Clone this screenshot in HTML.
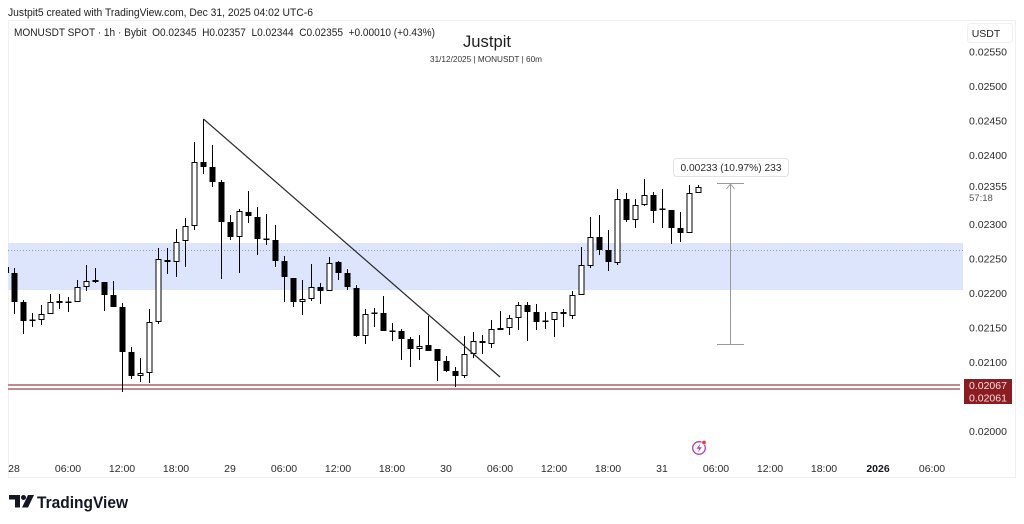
<!DOCTYPE html>
<html><head><meta charset="utf-8"><style>
html,body{margin:0;padding:0;background:#fff;}
svg{display:block;font-family:"Liberation Sans",sans-serif;}
</style></head><body>
<svg width="1024" height="524" viewBox="0 0 1024 524" xmlns="http://www.w3.org/2000/svg">
<rect width="1024" height="524" fill="#fff"/>
<!-- header -->
<text x="8" y="16" font-size="11" fill="#1e1e1e" textLength="305" lengthAdjust="spacingAndGlyphs">Justpit5 created with TradingView.com, Dec 31, 2025 04:02 UTC-6</text>
<rect x="8.5" y="20.5" width="1007" height="457" fill="none" stroke="#f0f0f0"/>
<text x="14" y="36" font-size="11" fill="#1e1e1e" textLength="421" lengthAdjust="spacingAndGlyphs" xml:space="preserve">MONUSDT SPOT · 1h · Bybit  O0.02345  H0.02357  L0.02344  C0.02355  +0.00010 (+0.43%)</text>
<text x="487" y="47" font-size="17" fill="#1e1e1e" text-anchor="middle" textLength="48" lengthAdjust="spacingAndGlyphs">Justpit</text>
<text x="486" y="62" font-size="8" fill="#333" text-anchor="middle" textLength="112" lengthAdjust="spacingAndGlyphs">31/12/2025 | MONUSDT | 60m</text>

<!-- blue zone -->
<rect x="8" y="243" width="955" height="47" fill="#dde5fc"/>
<line x1="8" y1="250.5" x2="963" y2="250.5" stroke="#8d9cc0" stroke-width="1" stroke-dasharray="1,2"/>
<!-- red lines -->
<rect x="8" y="384" width="952" height="2" fill="#bf8a8e"/>
<rect x="8" y="388" width="952" height="2" fill="#bf8a8e"/>

<!-- wicks -->
<path fill="none" stroke="#000" stroke-width="1" d="M8.5 267V273 M14.5 268V314 M23.5 300V334 M32.5 313V327 M41.5 305V325 M50.5 294V314 M59.5 294V309 M68.5 297V312 M77.5 280V302 M86.5 265V291 M95.5 268V283 M104.5 282V311 M113.5 281V307 M122.5 303V392 M131.5 347V379 M140.5 358V382 M149.5 309V383 M158.5 248V324 M167.5 248V274 M176.5 229V277 M185.5 218V267 M194.5 142V230 M203.5 119V174 M212.5 145V187 M221.5 180V279 M230.5 215V240 M239.5 209V273 M248.5 191V223 M257.5 207V255 M266.5 214V245 M275.5 225V267 M284.5 256V302 M293.5 278V307 M302.5 280V315 M311.5 264V301 M320.5 283V304 M329.5 257V291 M338.5 261V280 M347.5 269V290 M356.5 285V337 M365.5 309V344 M374.5 308V327 M383.5 296V331 M392.5 323V341 M401.5 329V360 M410.5 337V367 M419.5 335V360 M428.5 316V351 M437.5 349V381 M446.5 356V372 M455.5 367V387 M464.5 336V378 M473.5 332V358 M482.5 335V354 M491.5 320V348 M500.5 311V330 M509.5 315V335 M518.5 302V330 M527.5 302V341 M536.5 304V330 M545.5 312V329 M554.5 312V337 M563.5 309V327 M572.5 291V319 M581.5 247V295 M590.5 217V268 M599.5 215V255 M608.5 230V271 M617.5 189V265 M626.5 193V222 M635.5 199V228 M644.5 179V206 M653.5 192V223 M662.5 189V228 M671.5 210V244 M680.5 212V242 M689.5 185V233 M698.5 185V193"/>
<!-- bear bodies -->
<path fill="#000" d="M11.5 273h6V302h-6z M20.5 302h6V321h-6z M56.5 301h6V303h-6z M92.5 280h6V282h-6z M101.5 282h6V295h-6z M110.5 295h6V307h-6z M119.5 307h6V352h-6z M128.5 352h6V376h-6z M164.5 260h6V262h-6z M200.5 162h6V167h-6z M209.5 167h6V182h-6z M218.5 182h6V222h-6z M227.5 222h6V237h-6z M245.5 212h6V216h-6z M254.5 217h6V239h-6z M272.5 240h6V261h-6z M281.5 261h6V277h-6z M290.5 278h6V302h-6z M317.5 287h6V291h-6z M335.5 262h6V273h-6z M344.5 273h6V287h-6z M353.5 288h6V336h-6z M380.5 313h6V331h-6z M398.5 331h6V339h-6z M407.5 339h6V349h-6z M425.5 345h6V351h-6z M434.5 349h6V361h-6z M443.5 361h6V371h-6z M452.5 371h6V376h-6z M479.5 341h6V343h-6z M497.5 328h6V330h-6z M524.5 305h6V312h-6z M533.5 312h6V322h-6z M560.5 312h6V314h-6z M596.5 237h6V250h-6z M605.5 250h6V262h-6z M623.5 199h6V220h-6z M650.5 195h6V211h-6z M668.5 210h6V228h-6z M677.5 228h6V233h-6z"/>
<!-- doji -->
<path fill="#000" d="M29.5 319.5h6v1.5h-6z M65.5 301.5h6v1.5h-6z M263.5 238.5h6v1.5h-6z M371.5 312.5h6v1.5h-6z M389.5 330.5h6v1.5h-6z M542.5 320.5h6v1.5h-6z M659.5 208.5h6v1.5h-6z"/>
<!-- bull bodies -->
<path fill="#fff" stroke="#000" stroke-width="1" d="M39 314.5h5v5h-5z M48 302.5h5v11h-5z M75 287.5h5v14h-5z M84 281.5h5v5h-5z M138 373.5h5v2h-5z M147 322.5h5v50h-5z M156 259.5h5v62h-5z M174 242.5h5v19h-5z M183 226.5h5v14h-5z M192 162.5h5v63h-5z M237 211.5h5v25h-5z M300 299.5h5v2h-5z M309 287.5h5v11h-5z M327 263.5h5v27h-5z M363 314.5h5v21h-5z M417 346.5h5v2h-5z M462 354.5h5v21h-5z M471 341.5h5v12h-5z M489 329.5h5v14h-5z M507 318.5h5v9h-5z M516 305.5h5v12h-5z M552 312.5h5v7h-5z M570 295.5h5v20h-5z M579 265.5h5v29h-5z M588 237.5h5v28h-5z M615 199.5h5v63h-5z M633 205.5h5v14h-5z M642 195.5h5v9h-5z M687 193.5h5v39h-5z M696 187.5h5v5h-5z"/>

<!-- trend line -->
<line x1="203.5" y1="119" x2="500" y2="377" stroke="#2a2a2a" stroke-width="1.2"/>

<!-- measure tool -->
<g stroke="#9a9a9a" stroke-width="1" fill="none">
<line x1="730.5" y1="184" x2="730.5" y2="344"/>
<line x1="717" y1="183.5" x2="744" y2="183.5"/>
<line x1="717" y1="344.5" x2="744" y2="344.5"/>
<polyline points="726.5,189 730.5,184 734.5,189"/>
</g>
<rect x="673.5" y="158.5" width="115" height="18" rx="3" fill="#fff" stroke="#e3e3e3"/>
<text x="731" y="171" font-size="10.5" fill="#2a2a2a" text-anchor="middle" textLength="101" lengthAdjust="spacingAndGlyphs">0.00233 (10.97%) 233</text>

<!-- price axis -->
<rect x="967.5" y="23.5" width="45" height="19" rx="3" fill="#fff" stroke="#f0f0f0"/>
<text x="986" y="37" font-size="10.5" fill="#1e1e1e" text-anchor="middle">USDT</text>
<g font-size="10.5" fill="#2a2a2a">
<text x="969" y="55.5">0.02550</text>
<text x="969" y="90">0.02500</text>
<text x="969" y="124.5">0.02450</text>
<text x="969" y="159">0.02400</text>
<text x="969" y="190">0.02355</text>
<text x="969" y="228">0.02300</text>
<text x="969" y="262.5">0.02250</text>
<text x="969" y="297">0.02200</text>
<text x="969" y="331.5">0.02150</text>
<text x="969" y="366">0.02100</text>
<text x="969" y="435">0.02000</text>
</g>
<text x="969" y="201" font-size="9.5" fill="#555">57:18</text>
<rect x="964" y="379" width="48" height="12.5" fill="#8a1c22"/>
<rect x="964" y="391.5" width="48" height="12.5" fill="#8a1c22"/>
<text x="969" y="389" font-size="10.5" fill="#f3dede">0.02067</text>
<text x="969" y="401.5" font-size="10.5" fill="#f3dede">0.02061</text>

<!-- lightning icon -->
<circle cx="699" cy="448" r="6.3" fill="none" stroke="#a43fc0" stroke-width="1.3"/>
<path d="M700.5 443.5 L696.5 448.8 L699.2 448.8 L697.8 452.6 L701.8 447.2 L699.1 447.2 Z" fill="#a43fc0"/>
<circle cx="704" cy="442.5" r="2.2" fill="#f23645" stroke="#fff" stroke-width="0.6"/>

<!-- time axis -->
<g font-size="10.5" fill="#2a2a2a" text-anchor="middle">
<text x="14" y="472">28</text>
<text x="68" y="472">06:00</text>
<text x="122" y="472">12:00</text>
<text x="176" y="472">18:00</text>
<text x="230" y="472">29</text>
<text x="284" y="472">06:00</text>
<text x="338" y="472">12:00</text>
<text x="392" y="472">18:00</text>
<text x="446" y="472">30</text>
<text x="500" y="472">06:00</text>
<text x="554" y="472">12:00</text>
<text x="608" y="472">18:00</text>
<text x="662" y="472">31</text>
<text x="716" y="472">06:00</text>
<text x="770" y="472">12:00</text>
<text x="824" y="472">18:00</text>
<text x="878" y="472" font-weight="bold" fill="#131722">2026</text>
<text x="932" y="472">06:00</text>
</g>

<!-- TradingView logo -->
<g fill="#131722">
<path d="M9 495h11v12.5h-5v-8h-6z"/>
<circle cx="23.5" cy="497.5" r="2.5"/>
<path d="M28 495h6l-6 12.5h-6z"/>
</g>
<text x="37" y="508" font-size="17" font-weight="bold" fill="#131722" textLength="91" lengthAdjust="spacingAndGlyphs">TradingView</text>
</svg>
</body></html>
